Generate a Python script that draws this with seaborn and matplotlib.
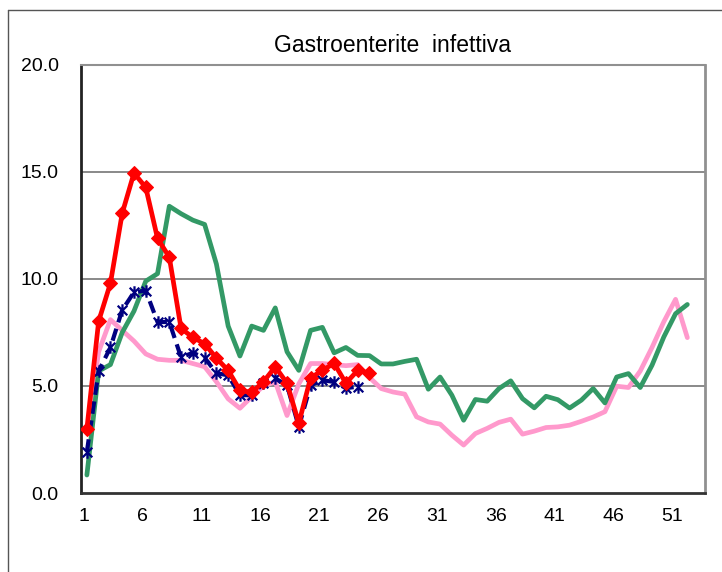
import numpy as np
import pandas as pd
import matplotlib
matplotlib.use("Agg")
import matplotlib.pyplot as plt
from matplotlib.path import Path
from matplotlib.lines import Line2D
import matplotlib.transforms as mtransforms
import seaborn as sns

# ---------------- data ----------------
weeks_all = list(range(1, 53))
tick_labels = ["1", "6", "11", "16", "21", "26", "31", "36", "41", "46", "51"]
tick_weeks = [1, 6, 11, 16, 21, 26, 31, 36, 41, 46, 51]
y_ticks = [0, 5, 10, 15, 20]

pink_vals = [2.8, 6.6, 8.1, 7.6, 7.1, 6.5, 6.25, 6.2, 6.2, 6.05,
             5.9, 5.2, 4.4, 3.96, 4.5, 5.0, 5.2, 3.62, 5.1, 6.05,
             6.05, 6.0, 5.95, 6.0, 5.4, 4.88, 4.72, 4.62, 3.56, 3.32,
             3.22, 2.7, 2.24, 2.78, 3.02, 3.3, 3.45, 2.75, 2.89, 3.06,
             3.09, 3.17, 3.35, 3.55, 3.8, 4.99, 4.93, 5.7, 6.8, 8.0,
             9.05, 7.26]

green_vals = [0.84, 5.7, 6.0, 7.5, 8.5, 9.9, 10.25, 13.4, 13.05, 12.75,
              12.55, 10.7, 7.8, 6.4, 7.8, 7.6, 8.65, 6.6, 5.73, 7.6,
              7.74, 6.55, 6.8, 6.43, 6.42, 6.03, 6.03, 6.15, 6.25, 4.85,
              5.42, 4.57, 3.4, 4.37, 4.29, 4.88, 5.24, 4.41, 3.98, 4.52,
              4.36, 3.97, 4.34, 4.88, 4.21, 5.42, 5.58, 4.93, 5.97, 7.29,
              8.38, 8.81]

blue_vals = [1.93, 5.7, 6.8, 8.55, 9.38, 9.46, 7.99, 7.99, 6.34, 6.55,
             6.32, 5.6, 5.5, 4.57, 4.57, 5.13, 5.36, 5.03, 3.09, 5.03,
             5.27, 5.19, 4.9, 4.97]

red_vals = [3.0, 8.03, 9.8, 13.07, 14.95, 14.28, 11.9, 11.02, 7.69, 7.27,
            6.98, 6.3, 5.73, 4.8, 4.7, 5.2, 5.9, 5.13, 3.26, 5.38,
            5.73, 6.06, 5.13, 5.73, 5.6]

title_text = "Gastroenterite  infettiva"

# ---------------- style ----------------
sns.set_theme(style="white")
plt.rcParams["font.family"] = ["Liberation Sans", "DejaVu Sans"]

fig = plt.figure(figsize=(7.22, 5.72), dpi=100)
ax = fig.add_axes([81 / 722, 1 - 493 / 572, (705 - 81) / 722, (493 - 65) / 572])

# asterisk marker (X plus vertical bar)
ast = Path([(-1, -1), (1, 1), (-1, 1), (1, -1), (0, -1.3), (0, 1.3)],
           [Path.MOVETO, Path.LINETO, Path.MOVETO, Path.LINETO, Path.MOVETO, Path.LINETO])

sns.lineplot(x=weeks_all, y=pink_vals, ax=ax, color="#FF99CC", linewidth=3.4, zorder=2)
sns.lineplot(x=weeks_all, y=green_vals, ax=ax, color="#339966", linewidth=3.4, zorder=3)
sns.lineplot(x=weeks_all[:len(blue_vals)], y=blue_vals, ax=ax, color="#000080",
             linewidth=3.0, linestyle=(0, (3, 1.6)), marker=ast, markersize=9,
             markerfacecolor="none", markeredgecolor="#000080", markeredgewidth=1.6, zorder=4)
sns.lineplot(x=weeks_all[:len(red_vals)], y=red_vals, ax=ax, color="#FF0000",
             linewidth=3.4, marker="D", markersize=7, markeredgecolor="#FF0000", zorder=5)

ax.set_xlim(0.5, 53.5)
ax.set_ylim(0, 20)
ax.set_yticks(y_ticks)
ax.set_yticklabels([f"{v:.1f}" for v in y_ticks])
ax.set_xticks(tick_weeks)
ax.set_xticklabels(tick_labels)
ax.set_xticks([w - 0.5 for w in tick_weeks[1:]], minor=True)
ax.tick_params(axis="x", which="major", length=0, pad=11, labelsize=14, colors="black")
ax.tick_params(axis="x", which="minor", length=6, width=1.2, direction="in", color="#333333")
ax.tick_params(axis="y", length=0, pad=16, labelsize=14, colors="black")

shift = mtransforms.ScaledTranslation(-3 / 100, 0, fig.dpi_scale_trans)
for lab in ax.get_xticklabels():
    lab.set_transform(lab.get_transform() + shift)

for v in y_ticks[1:-1]:
    ax.axhline(v, color="#808080", linewidth=1.3, zorder=1)

ax.spines["left"].set_color("#222222")
ax.spines["bottom"].set_color("#333333")
ax.spines["left"].set_linewidth(2)
ax.spines["bottom"].set_linewidth(2)
ax.spines["top"].set_color("#909090")
ax.spines["right"].set_color("#909090")
ax.spines["top"].set_linewidth(1.5)
ax.spines["right"].set_linewidth(2)
ax.set_xlabel("")
ax.set_ylabel("")

fig.text(393 / 722, 1 - 46 / 572, title_text, ha="center", va="center", fontsize=16.5, color="black")

# outer frame (left and top lines)
fx = 7.5 / 722
fy = 1 - 10 / 572
fig.add_artist(Line2D([fx, fx], [0, fy], color="#555555", linewidth=1, transform=fig.transFigure))
fig.add_artist(Line2D([fx, 1], [fy, fy], color="#555555", linewidth=1, transform=fig.transFigure))

fig.savefig("out.png", dpi=100)
